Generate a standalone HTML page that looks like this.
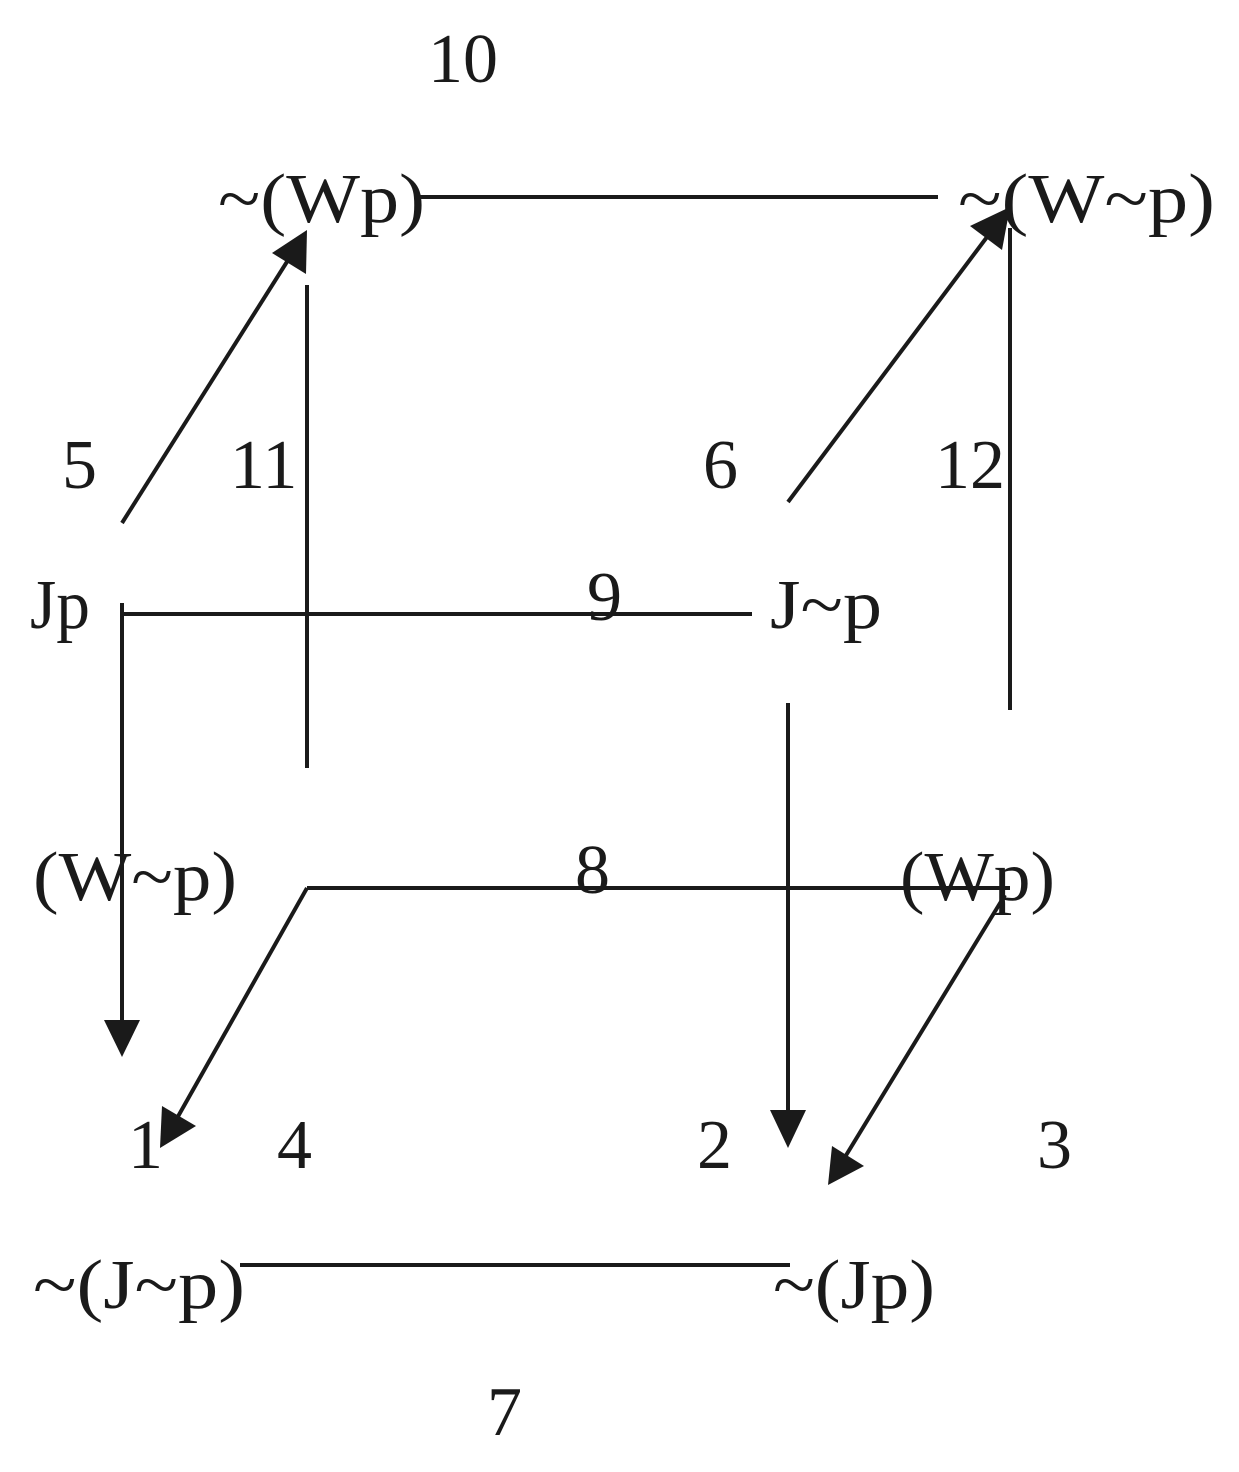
<!DOCTYPE html>
<html><head><meta charset="utf-8"><style>
html,body{margin:0;padding:0;background:#fff;}
svg{display:block;}
text{font-family:"Liberation Serif","DejaVu Serif",serif;font-size:70px;fill:#1a1a1a;}
</style></head><body>
<svg width="1239" height="1472" viewBox="0 0 1239 1472" xmlns="http://www.w3.org/2000/svg">
<g stroke="#1a1a1a" stroke-width="4" fill="none">
<line x1="420" y1="197" x2="938" y2="197"/>
<line x1="122" y1="523" x2="290" y2="257"/>
<line x1="307" y1="285" x2="307" y2="768"/>
<line x1="788" y1="502" x2="990" y2="233"/>
<line x1="1010" y1="228" x2="1010" y2="710"/>
<line x1="122" y1="614" x2="752" y2="614"/>
<line x1="122" y1="603" x2="122" y2="1025"/>
<line x1="307" y1="888" x2="1010" y2="888"/>
<line x1="307" y1="888" x2="176" y2="1120"/>
<line x1="1005" y1="895" x2="845" y2="1157"/>
<line x1="788" y1="703" x2="788" y2="1115"/>
<line x1="240" y1="1265" x2="790" y2="1265"/>
</g>
<g fill="#1a1a1a">
<polygon points="307,230 306,274 272,253"/>
<polygon points="1010,207 1002,250 970,226"/>
<polygon points="122,1057 104,1020 140,1020"/>
<polygon points="160,1148 162,1106 196,1126"/>
<polygon points="828,1185 864,1166 832,1146"/>
<polygon points="788,1148 770,1110 806,1110"/>
</g>
<text x="428" y="82">10</text>
<text x="218" y="222" textLength="207" lengthAdjust="spacingAndGlyphs">~(Wp)</text>
<text x="958" y="222" textLength="257" lengthAdjust="spacingAndGlyphs">~(W~p)</text>
<text x="62" y="488">5</text>
<text x="230" y="488">11</text>
<text x="703" y="488">6</text>
<text x="935" y="488">12</text>
<text x="30" y="628" textLength="60" lengthAdjust="spacingAndGlyphs">Jp</text>
<text x="587" y="620">9</text>
<text x="770" y="628" textLength="112" lengthAdjust="spacingAndGlyphs">J~p</text>
<text x="33" y="900" textLength="204" lengthAdjust="spacingAndGlyphs">(W~p)</text>
<text x="575" y="893">8</text>
<text x="900" y="900" textLength="155" lengthAdjust="spacingAndGlyphs">(Wp)</text>
<text x="128" y="1168">1</text>
<text x="277" y="1168">4</text>
<text x="697" y="1168">2</text>
<text x="1037" y="1168">3</text>
<text x="33" y="1308" textLength="212" lengthAdjust="spacingAndGlyphs">~(J~p)</text>
<text x="773" y="1308" textLength="162" lengthAdjust="spacingAndGlyphs">~(Jp)</text>
<text x="487" y="1435">7</text>
</svg>
</body></html>
